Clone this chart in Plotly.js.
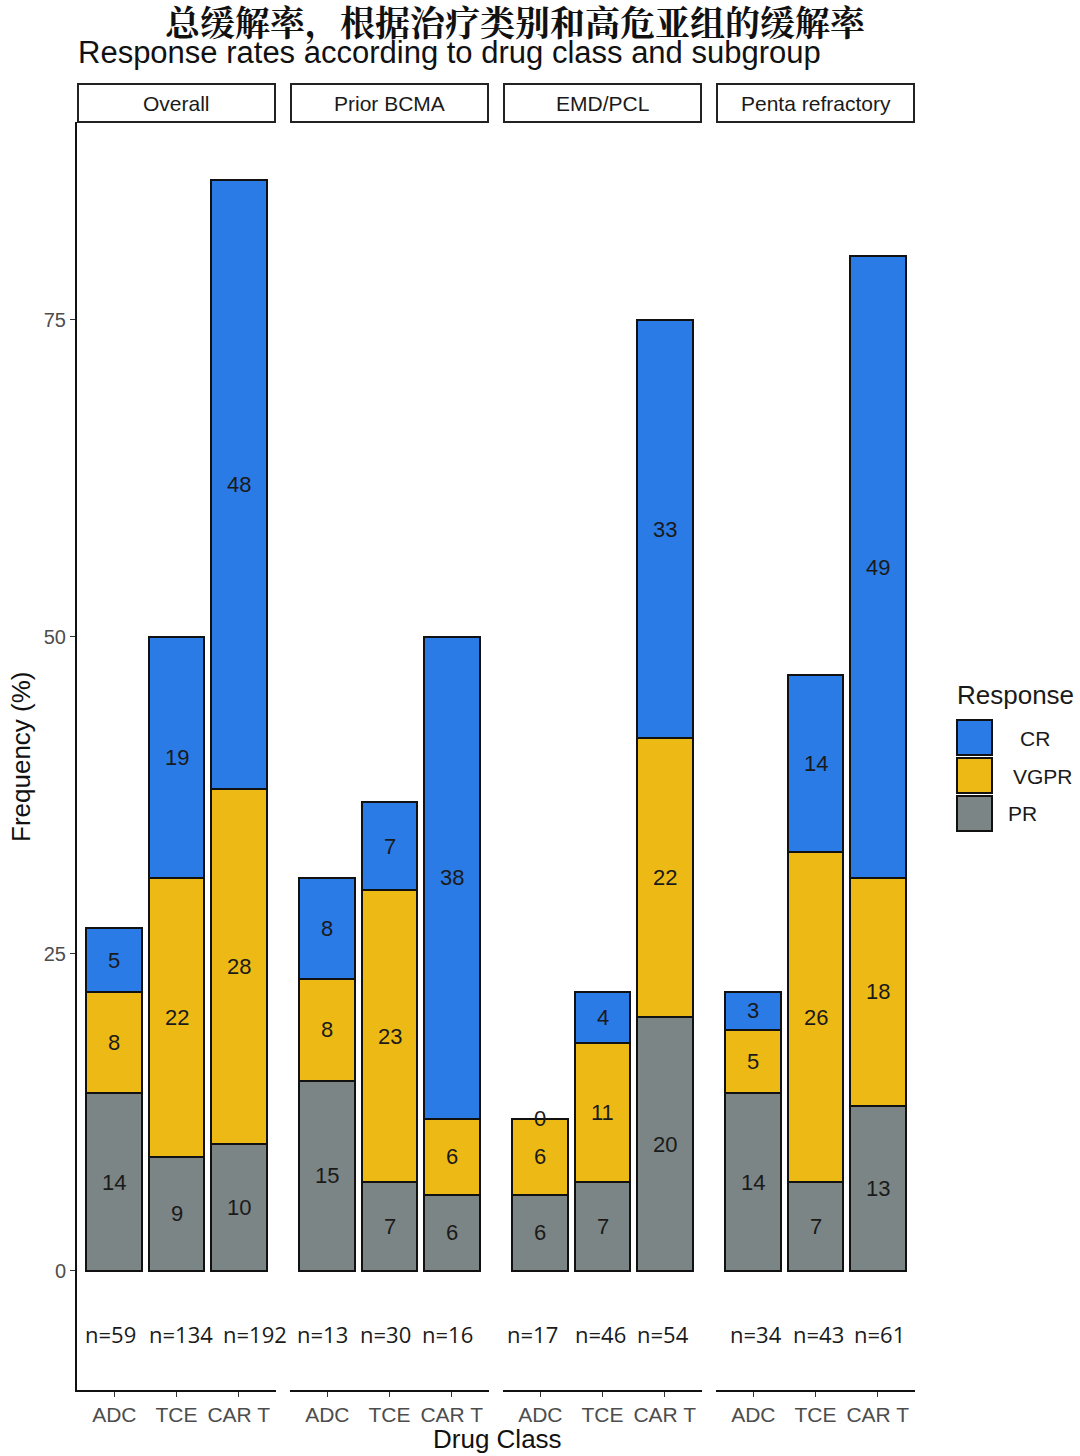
<!DOCTYPE html>
<html><head><meta charset="utf-8">
<script src="https://cdn.plot.ly/plotly-3.0.1.min.js"></script>
<style>body{margin:0;background:#fff}</style>
</head><body>
<div id="chart" style="width:1080px;height:1456px"></div>
<script>
const panels = ["Overall", "Prior BCMA", "EMD/PCL", "Penta refractory"];
const drugClasses = ["ADC", "TCE", "CAR T"];
// values per panel, order ADC, TCE, CAR T
const prValues   = [[14, 9, 10], [15, 7, 6], [6, 7, 20], [14, 7, 13]];
const vgprValues = [[8, 22, 28], [8, 23, 6], [6, 11, 22], [5, 26, 18]];
const crValues   = [[5, 19, 48], [8, 7, 38], [0, 4, 33], [3, 14, 49]];
const nLabels = [["n=59","n=134","n=192"],["n=13","n=30","n=16"],["n=17","n=46","n=54"],["n=34","n=43","n=61"]];
const responses = ["CR", "VGPR", "PR"];
const colors = {CR: "#2B7BE6", VGPR: "#EDBA15", PR: "#7C8585"};

const W = 1080, H = 1456;
const L = 77, R = 915, T = 122, B = 1390;
const px = x => (x - L) / (R - L);
const py = y => (B - y) / (B - T);

const domains = [[px(77), px(276)], [px(290), px(489)], [px(503), px(702)], [px(716), px(915)]];
// small horizontal nudges of the n= labels (style only)
const nShift = [[-4, 4, 16], [-5, -4, -4], [-8, -2, -2], [3, 3, 2]];

const traces = [];
const annotations = [];
const shapes = [];
const seriesOrder = [["PR", prValues], ["VGPR", vgprValues], ["CR", crValues]];
const C = {xanchor: "center", yanchor: "middle", showarrow: false};

panels.forEach((p, i) => {
  const xa = i === 0 ? "x" : "x" + (i + 1);
  const base = [0, 0, 0];
  seriesOrder.forEach(([name, vals]) => {
    traces.push({
      type: "bar", x: drugClasses, y: vals[i], xaxis: xa, yaxis: "y",
      name: name, showlegend: false, hoverinfo: "skip",
      marker: {color: colors[name], line: {color: "#111", width: 2}},
      width: 0.9
    });
    vals[i].forEach((v, j) => {
      annotations.push(Object.assign({xref: xa, yref: "y", x: drugClasses[j], y: base[j] + v / 2,
        text: String(v),
        font: {family: "Liberation Sans, Arial", size: 22, color: "#1a1a1a"}}, C));
      base[j] += v;
    });
  });
  nLabels[i].forEach((t, j) => {
    annotations.push(Object.assign({xref: xa, yref: "y", x: drugClasses[j], y: -5, text: t,
      xshift: nShift[i][j],
      font: {family: "Open Sans, Noto Sans", size: 22, color: "#1a1a1a"}}, C));
  });
  // strip
  shapes.push({type: "rect", xref: "paper", yref: "paper",
    x0: domains[i][0] + px(78) - px(77), x1: domains[i][1] - (px(77) - px(76)), y0: py(122), y1: py(84),
    line: {color: "#222", width: 2}, fillcolor: "rgba(0,0,0,0)"});
  annotations.push(Object.assign({xref: "paper", yref: "paper", x: (domains[i][0] + domains[i][1]) / 2, y: py(103),
    text: p, font: {family: "Liberation Sans, Arial", size: 21, color: "#1a1a1a"}}, C));
});

// legend (manual)
annotations.push(Object.assign({xref: "paper", yref: "paper", x: px(955), y: py(695), text: "Response",
  font: {family: "Liberation Sans, Arial", size: 26, color: "#1a1a1a"}}, C, {xanchor: "left"}));
const legY = [720, 758, 796];
const legTx = [1018, 1011, 1006];
responses.forEach((r, k) => {
  shapes.push({type: "rect", xref: "paper", yref: "paper", x0: px(957), x1: px(992),
    y0: py(legY[k] + 35), y1: py(legY[k]), fillcolor: colors[r], line: {color: "#111", width: 2}});
  annotations.push(Object.assign({xref: "paper", yref: "paper", x: px(legTx[k]), y: py(legY[k] + 18),
    text: r, font: {family: "Liberation Sans, Arial", size: 21, color: "#1a1a1a"}}, C, {xanchor: "left"}));
});

// titles
annotations.push(Object.assign({xref: "paper", yref: "paper", x: px(515), y: py(21), text: "<b>总缓解率，根据治疗类别和高危亚组的缓解率</b>",
  font: {family: "Noto Serif CJK SC, Noto Sans CJK SC", size: 35, color: "#111"}}, C));
annotations.push(Object.assign({xref: "paper", yref: "paper", x: px(76), y: py(53),
  text: "Response rates according to drug class and subgroup",
  font: {family: "Liberation Sans, Arial", size: 31, color: "#111"}}, C, {xanchor: "left"}));
annotations.push(Object.assign({xref: "paper", yref: "paper", x: px(21), y: py(757), text: "Frequency (%)", textangle: -90,
  font: {family: "Liberation Sans, Arial", size: 26, color: "#111"}}, C));
annotations.push(Object.assign({xref: "paper", yref: "paper", x: px(497), y: py(1439), text: "Drug Class",
  font: {family: "Liberation Sans, Arial", size: 26, color: "#111"}}, C));

const layout = {
  width: W, height: H, margin: {l: L, r: W - R, t: T, b: H - B},
  paper_bgcolor: "#fff", plot_bgcolor: "#fff", barmode: "stack", showlegend: false,
  yaxis: {range: [-9.4, 90.6], tickvals: [0, 25, 50, 75], showgrid: false, zeroline: false,
    showline: true, linecolor: "#111", linewidth: 2, ticks: "outside", ticklen: 5, tickcolor: "#333",
    tickfont: {family: "Liberation Sans, Arial", size: 20, color: "#4d4d4d"}, anchor: "x"},
  annotations: annotations, shapes: shapes
};
panels.forEach((p, i) => {
  const key = i === 0 ? "xaxis" : "xaxis" + (i + 1);
  layout[key] = {domain: domains[i], type: "category", categoryarray: drugClasses, categoryorder: "array",
    range: [-0.6, 2.6], showgrid: false, zeroline: false, showline: true, linecolor: "#111", linewidth: 2,
    ticks: "outside", ticklen: 5, tickcolor: "#333", anchor: "y",
    tickfont: {family: "Liberation Sans, Arial", size: 21, color: "#4d4d4d"}};
});
Plotly.newPlot("chart", traces, layout, {displayModeBar: false});
</script>
</body></html>
